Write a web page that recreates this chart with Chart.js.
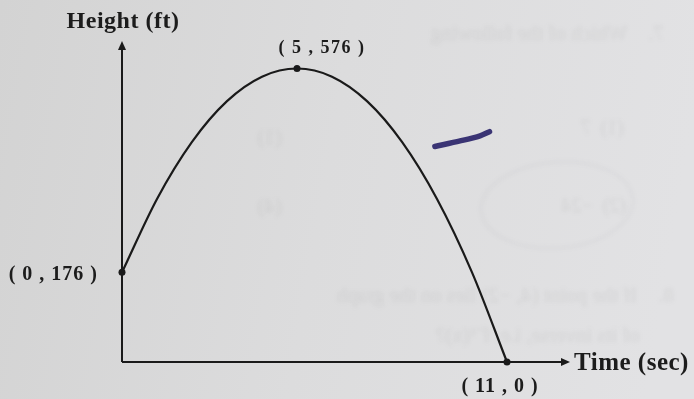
<!DOCTYPE html>
<html>
<head>
<meta charset="utf-8">
<script src="https://cdn.jsdelivr.net/npm/chart.js@4.4.1/dist/chart.umd.min.js"></script>
<style>
    html, body { margin: 0; padding: 0; background: #dcdcdc; }
    #wrap { width: 694px; height: 399px; position: relative; }
</style>
</head>
<body>
<div id="wrap"><canvas id="grafico-altura"></canvas></div>
<script>
// tiempo (s) y altura (ft) de la curva
var tiempos = [0, 1, 2, 3, 4, 5, 6, 7, 8, 9, 10, 11];
var alturas = [176, 320, 432, 512, 560, 576, 560, 512, 432, 320, 176, 0];

// puntos marcados con su etiqueta
var puntosX = [0, 5, 11];
var puntosY = [176, 576, 0];
var etiquetas = ["( 0 , 176 )", "( 5 , 576 )", "( 11 , 0 )"];

// raya de bolígrafo al lado de la curva
var rayaX = [8.94, 9.66, 10.23, 10.5];
var rayaY = [423, 434, 444, 452];

var serif = '"Liberation Serif", "Times New Roman", serif';

function puntos(xs, ys) {
    var out = [];
    for (var i = 0; i < xs.length; i++) {
        out.push({ x: xs[i], y: ys[i] });
    }
    return out;
}

// texto en espejo (se transparenta la otra cara de la hoja)
function textoEspejo(ctx, txt, derecha, y, size) {
    ctx.save();
    ctx.translate(derecha, y);
    ctx.scale(-1, 1);
    ctx.font = size + 'px ' + serif;
    ctx.textAlign = 'left';
    ctx.fillText(txt, 0, 0);
    ctx.restore();
}

var fondoHoja = {
    id: 'fondoHoja',
    beforeDraw: function (chart) {
        var ctx = chart.ctx;
        var w = chart.width, h = chart.height;
        ctx.save();
        var g = ctx.createLinearGradient(0, 0, w, h * 0.3);
        g.addColorStop(0, '#d3d3d3');
        g.addColorStop(0.5, '#dcdcdd');
        g.addColorStop(1, '#e2e2e4');
        ctx.fillStyle = g;
        ctx.fillRect(0, 0, w, h);

        ctx.filter = 'blur(2px)';
        ctx.fillStyle = 'rgba(95, 95, 100, 0.10)';
        textoEspejo(ctx, '7.    Which of the following', 664, 40, 21);
        textoEspejo(ctx, '(1)', 282, 144, 21);
        textoEspejo(ctx, '(1)  7', 624, 134, 20);
        textoEspejo(ctx, '(4)', 282, 213, 21);
        textoEspejo(ctx, '(2)  \u221224', 626, 212, 20);
        textoEspejo(ctx, '8.    If the point (4, \u22122) lies on the graph', 674, 302, 21);
        textoEspejo(ctx, 'of its inverse, i.e. f\u207b\u00b9(x)?', 640, 342, 21);
        ctx.strokeStyle = 'rgba(95, 95, 100, 0.08)';
        ctx.lineWidth = 1.5;
        ctx.beginPath();
        ctx.ellipse(557, 205, 76, 43, -0.08, 0, Math.PI * 2);
        ctx.stroke();
        ctx.restore();
    }
};

var ejesYTextos = {
    id: 'ejesYTextos',
    afterDatasetsDraw: function (chart) {
        var ctx = chart.ctx;
        var sx = chart.scales.x, sy = chart.scales.y;
        var x0 = sx.getPixelForValue(0), y0 = sy.getPixelForValue(0);
        var xFin = sx.getPixelForValue(sx.max), yFin = sy.getPixelForValue(sy.max);
        ctx.save();
        ctx.strokeStyle = '#1a1a1a';
        ctx.fillStyle = '#1a1a1a';
        ctx.lineWidth = 2;
        ctx.beginPath();
        ctx.moveTo(x0, y0);
        ctx.lineTo(x0, yFin + 6);
        ctx.moveTo(x0, y0);
        ctx.lineTo(xFin - 6, y0);
        ctx.stroke();
        // flechas
        ctx.beginPath();
        ctx.moveTo(x0, yFin);
        ctx.lineTo(x0 - 4, yFin + 9);
        ctx.lineTo(x0 + 4, yFin + 9);
        ctx.closePath();
        ctx.fill();
        ctx.beginPath();
        ctx.moveTo(xFin, y0);
        ctx.lineTo(xFin - 9, y0 - 4);
        ctx.lineTo(xFin - 9, y0 + 4);
        ctx.closePath();
        ctx.fill();

        ctx.fillStyle = '#1c1c1c';
        ctx.textBaseline = 'alphabetic';
        ctx.font = 'bold 24px ' + serif;
        ctx.textAlign = 'center';
        ctx.letterSpacing = '0.5px';
        ctx.fillText('Height (ft)', x0 + 1, 28);
        ctx.font = 'bold 25px ' + serif;
        ctx.textAlign = 'left';
        ctx.fillText('Time (sec)', xFin + 4, y0 + 8);

        // etiquetas de los puntos
        ctx.letterSpacing = '1.5px';
        ctx.font = 'bold 18px ' + serif;
        ctx.textAlign = 'center';
        ctx.fillText(etiquetas[1], sx.getPixelForValue(puntosX[1]) + 25, sy.getPixelForValue(puntosY[1]) - 16);
        ctx.letterSpacing = '1px';
        ctx.font = 'bold 20px ' + serif;
        ctx.textAlign = 'right';
        ctx.fillText(etiquetas[0], x0 - 24, sy.getPixelForValue(puntosY[0]) + 8);
        ctx.textAlign = 'center';
        ctx.fillText(etiquetas[2], sx.getPixelForValue(puntosX[2]) - 7, y0 + 30);
        ctx.restore();
    }
};

const ctx = document.getElementById("grafico-altura");
var myChart = new Chart(ctx, {
    type: 'line',
    data: {
        datasets: [{
            label: 'Altura',
            data: puntos(tiempos, alturas),
            borderColor: '#1a1a1a',
            borderWidth: 2.2,
            pointRadius: 0,
            tension: 0.4,
            cubicInterpolationMode: 'monotone',
            clip: false
        }, {
            label: 'Puntos',
            data: puntos(puntosX, puntosY),
            showLine: false,
            pointRadius: 3.5,
            pointBackgroundColor: '#1a1a1a',
            pointBorderWidth: 0,
            clip: false
        }, {
            label: 'Raya',
            data: puntos(rayaX, rayaY),
            borderColor: '#3a3474',
            borderWidth: 5.5,
            borderCapStyle: 'round',
            borderJoinStyle: 'round',
            pointRadius: 0,
            tension: 0.3,
            clip: false
        }]
    },
    options: {
        responsive: true,
        maintainAspectRatio: false,
        animation: false,
        devicePixelRatio: 1,
        layout: {
            padding: { left: 122, right: 124, top: 41, bottom: 37 }
        },
        plugins: {
            legend: { display: false },
            tooltip: { enabled: false }
        },
        scales: {
            x: { type: 'linear', min: 0, max: 12.8, display: false },
            y: { min: 0, max: 630, display: false }
        }
    },
    plugins: [fondoHoja, ejesYTextos]
});
</script>
</body>
</html>
